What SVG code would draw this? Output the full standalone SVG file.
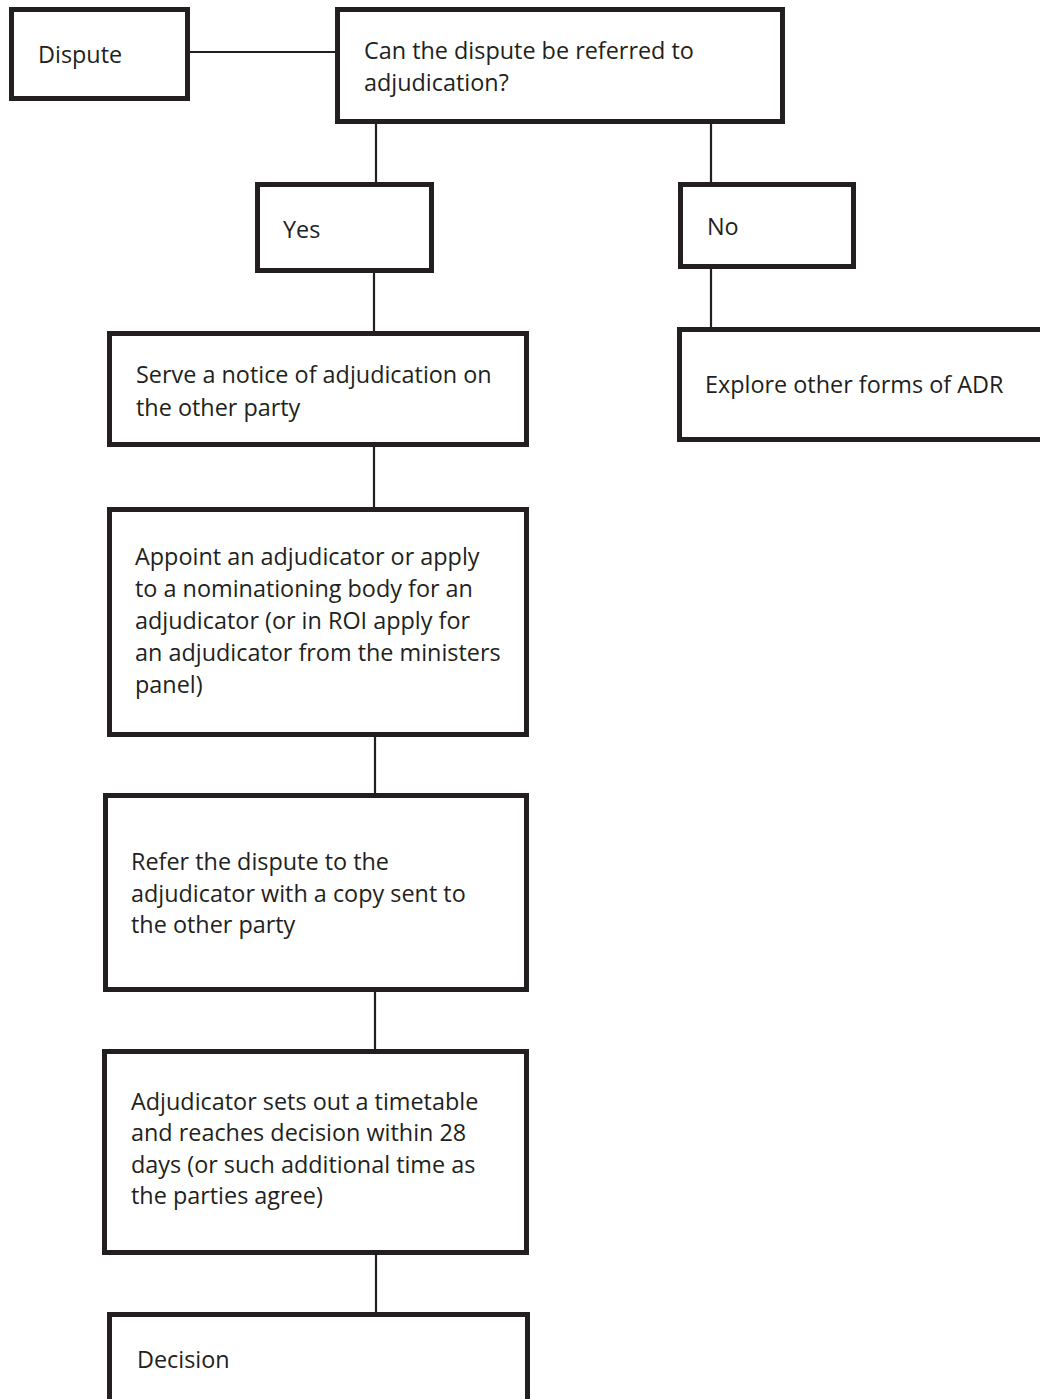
<svg xmlns="http://www.w3.org/2000/svg" width="1040" height="1399" viewBox="0 0 1040 1399">
<style>
.box{fill:#fff;stroke:#231f20;stroke-width:5}
.lbl{font-family:"Open Sans","Liberation Sans",sans-serif;font-size:23.4px;fill:#231f20}
.con line{stroke:#231f20;stroke-width:2.2}
</style>
<rect width="1040" height="1399" fill="#fff"/>
<g id="connectors" class="con">
<line x1="190" y1="52" x2="335" y2="52"/>
<line x1="376" y1="124" x2="376" y2="182"/>
<line x1="711" y1="124" x2="711" y2="182"/>
<line x1="711" y1="269" x2="711" y2="327"/>
<line x1="374" y1="273" x2="374" y2="331"/>
<line x1="374" y1="447" x2="374" y2="507"/>
<line x1="375" y1="737" x2="375" y2="793"/>
<line x1="375" y1="992" x2="375" y2="1049"/>
<line x1="376" y1="1255" x2="376" y2="1312"/>
</g>
<g id="dispute"><rect class="box" x="11.5" y="9.5" width="176" height="89"/><text class="lbl" x="38" y="63">Dispute</text></g>
<g id="question"><rect class="box" x="337.5" y="9.5" width="445" height="112"/><text class="lbl" x="364" y="59">Can the dispute be referred to</text><text class="lbl" x="364" y="91">adjudication?</text></g>
<g id="yes"><rect class="box" x="257.5" y="184.5" width="174" height="86"/><text class="lbl" x="283" y="238">Yes</text></g>
<g id="no"><rect class="box" x="680.5" y="184.5" width="173" height="82"/><text class="lbl" x="707" y="235">No</text></g>
<g id="explore"><rect class="box" x="679.5" y="329.5" width="365" height="110"/><text class="lbl" x="705" y="393">Explore other forms of ADR</text></g>
<g id="serve"><rect class="box" x="109.5" y="333.5" width="417" height="111"/><text class="lbl" x="136" y="383">Serve a notice of adjudication on</text><text class="lbl" x="136" y="416">the other party</text></g>
<g id="appoint"><rect class="box" x="109.5" y="509.5" width="417" height="225"/>
<text class="lbl" x="135" y="565">Appoint an adjudicator or apply</text>
<text class="lbl" x="135" y="597">to a nominationing body for an</text>
<text class="lbl" x="135" y="629">adjudicator (or in ROI apply for</text>
<text class="lbl" x="135" y="661">an adjudicator from the ministers</text>
<text class="lbl" x="135" y="693">panel)</text></g>
<g id="refer"><rect class="box" x="105.5" y="795.5" width="421" height="194"/>
<text class="lbl" x="131" y="870">Refer the dispute to the</text>
<text class="lbl" x="131" y="902">adjudicator with a copy sent to</text>
<text class="lbl" x="131" y="933">the other party</text></g>
<g id="adjudicator"><rect class="box" x="104.5" y="1051.5" width="422" height="201"/>
<text class="lbl" x="131" y="1110">Adjudicator sets out a timetable</text>
<text class="lbl" x="131" y="1141">and reaches decision within 28</text>
<text class="lbl" x="131" y="1173">days (or such additional time as</text>
<text class="lbl" x="131" y="1204">the parties agree)</text></g>
<g id="decision"><rect class="box" x="109.5" y="1314.5" width="418" height="100"/><text class="lbl" x="137" y="1368">Decision</text></g>
</svg>
